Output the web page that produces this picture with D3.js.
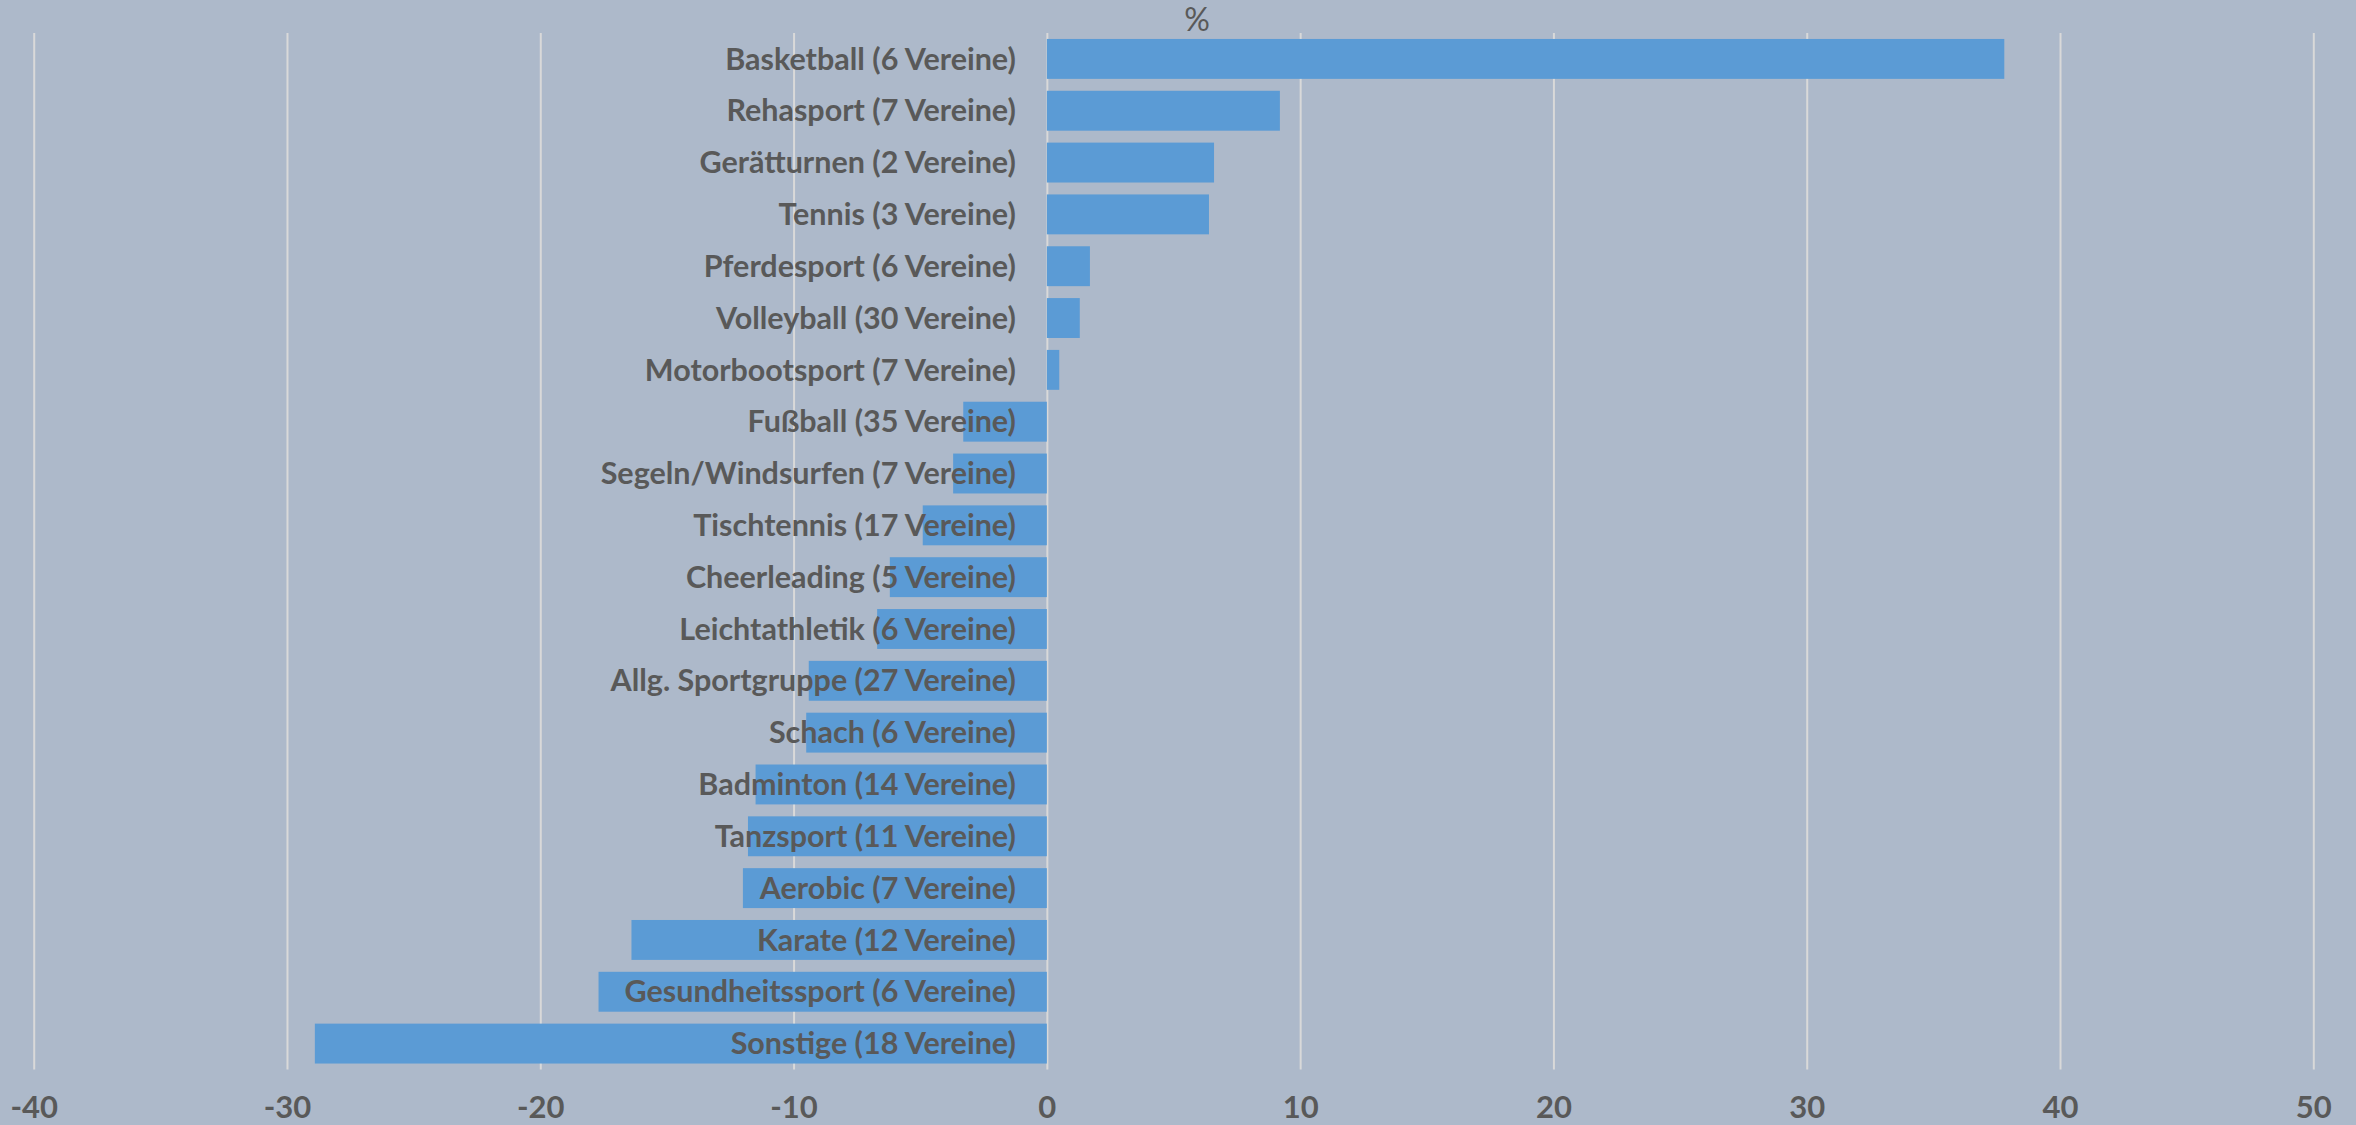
<!DOCTYPE html>
<html>
<head>
<meta charset="utf-8">
<script src="https://cdn.jsdelivr.net/npm/d3@7"></script>
<style>
  html, body { margin: 0; padding: 0; background: #ADB9CA; }
  svg { display: block; }
</style>
</head>
<body>
<svg id="chart" width="2356" height="1125"></svg>
<script>
// ---- data ----
const categories = [
  "Basketball (6 Vereine)",
  "Rehasport (7 Vereine)",
  "Gerätturnen (2 Vereine)",
  "Tennis (3 Vereine)",
  "Pferdesport (6 Vereine)",
  "Volleyball (30 Vereine)",
  "Motorbootsport (7 Vereine)",
  "Fußball (35 Vereine)",
  "Segeln/Windsurfen (7 Vereine)",
  "Tischtennis (17 Vereine)",
  "Cheerleading (5 Vereine)",
  "Leichtathletik (6 Vereine)",
  "Allg. Sportgruppe (27 Vereine)",
  "Schach (6 Vereine)",
  "Badminton (14 Vereine)",
  "Tanzsport (11 Vereine)",
  "Aerobic (7 Vereine)",
  "Karate (12 Vereine)",
  "Gesundheitssport (6 Vereine)",
  "Sonstige (18 Vereine)"
];
const values = [37.8, 9.2, 6.6, 6.4, 1.7, 1.3, 0.49, -3.3, -3.7, -4.9, -6.2, -6.7, -9.4, -9.5, -11.5, -11.8, -12.0, -16.4, -17.7, -28.9];
const tickValues = [-40, -30, -20, -10, 0, 10, 20, 30, 40, 50];
const axisTitle = "%";

// ---- layout ----
const svg = d3.select("#chart");
const W = 2356, H = 1125;
const plot = { left: 33.7, right: 2313.3, top: 33, bottom: 1069.5 };
const textColor = "#595959";
const fontFam = "Lato, 'Liberation Sans', sans-serif";

svg.append("rect").attr("width", W).attr("height", H).attr("fill", "#ADB9CA");

const x = d3.scaleLinear().domain([-40, 50]).range([plot.left, plot.right]);
const y = d3.scaleBand().domain(categories).range([plot.top, plot.bottom]).paddingInner(0.23).paddingOuter(0.115);

// gridlines via axis
const grid = svg.append("g")
  .attr("transform", `translate(0,${plot.bottom})`)
  .call(d3.axisBottom(x).tickValues(tickValues).tickSize(-(plot.bottom - plot.top)).tickFormat(""));
grid.select(".domain").remove();
grid.selectAll(".tick line").attr("stroke", "#D9D9D9").attr("stroke-width", 2);

// tick labels
const ax = svg.append("g")
  .attr("transform", `translate(0,${plot.bottom})`)
  .call(d3.axisBottom(x).tickValues(tickValues).tickSize(0).tickPadding(0).tickFormat(d3.format("d")));
ax.select(".domain").remove();
ax.selectAll(".tick text")
  .attr("y", 48)
  .attr("dy", 0)
  .attr("fill", textColor)
  .attr("font-family", fontFam)
  .attr("font-weight", "bold")
  .attr("font-size", 31)
  .text(d => d < 0 ? "-" + Math.abs(d) : d);

// bars
const data = categories.map((c, i) => ({ c, v: values[i] }));
svg.append("g").selectAll("rect").data(data).join("rect")
  .attr("x", d => x(Math.min(0, d.v)))
  .attr("width", d => Math.abs(x(d.v) - x(0)))
  .attr("y", d => y(d.c))
  .attr("height", y.bandwidth())
  .attr("fill", "#5B9BD5");

// category labels
svg.append("g").selectAll("text").data(data).join("text")
  .attr("x", x(0) - 31)
  .attr("y", d => y(d.c) + y.bandwidth() / 2)
  .attr("dy", "0.35em")
  .attr("text-anchor", "end")
  .attr("fill", textColor)
  .attr("font-family", fontFam)
  .attr("font-weight", "bold")
  .attr("font-size", 30.5)
  .text(d => d.c);

// title "%"
svg.append("text")
  .attr("x", 1197)
  .attr("y", 31)
  .attr("text-anchor", "middle")
  .attr("fill", textColor)
  .attr("font-family", fontFam)
  .attr("font-size", 32)
  .text(axisTitle);
</script>
</body>
</html>
